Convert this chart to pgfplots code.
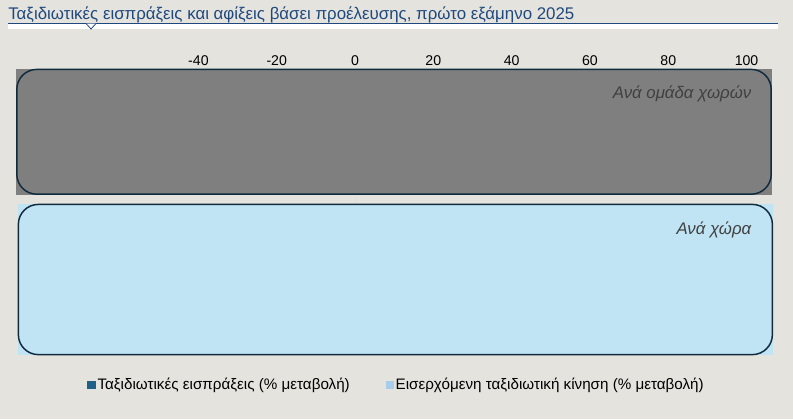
\documentclass[border=0pt]{standalone}
\usepackage{pgfplots}
\pgfplotsset{compat=1.18}
\usepackage{fontspec}
\setmainfont{Liberation Sans}
\definecolor{bgc}{RGB}{229,227,222}
\definecolor{titleblue}{RGB}{31,73,125}
\definecolor{panelgrey}{RGB}{127,127,127}
\definecolor{panelblue}{RGB}{192,228,244}
\definecolor{edge}{RGB}{16,42,62}
\definecolor{receipts}{RGB}{31,95,138}
\definecolor{arrivals}{RGB}{169,204,235}
\definecolor{labgrey}{RGB}{64,64,64}

\begin{document}
\begin{tikzpicture}
% page background, title, underline and notch (pixel units)
\begin{scope}[x=0.75pt,y=-0.75pt]
\fill[bgc] (0,0) rectangle (793,419);
\node[anchor=base west, inner sep=0pt, text=titleblue, font=\fontsize{12.65pt}{14pt}\selectfont]
  at (8,19) {Ταξιδιωτικές εισπράξεις και αφίξεις βάσει προέλευσης, πρώτο εξάμηνο 2025};
\fill[white] (8,24) rectangle (778,29);
\draw[titleblue, line width=1pt] (8,23.5) -- (778,23.5);
\filldraw[fill=white, draw=titleblue, line width=0.6pt] (86,23.5) -- (91,29) -- (96,23.5);
\end{scope}

\begin{axis}[
    at={(12pt,-266.25pt)}, anchor=south west,
    scale only axis,
    width=567pt, height=214.5pt,
    xmin=-86.6, xmax=106.5,
    ymin=0, ymax=286,
    clip=false,
    axis line style={draw=none},
    xtick={-40,-20,0,20,40,60,80,100},
    xticklabel pos=upper,
    major tick length=0pt,
    ytick=\empty,
    xticklabel style={font=\fontsize{10.6pt}{12pt}\selectfont, yshift=-1pt},
    /pgf/number format/assume math mode=true,
    legend columns=2,
    legend style={at={(0.504,-0.103)}, anchor=center, draw=none, fill=none,
        font=\fontsize{11.4pt}{13pt}\selectfont,
        /tikz/every even column/.append style={column sep=25pt}},
    legend cell align=left,
]
% zero line, seen in the gap between panels
\draw[gray!25, line width=0.8pt] (axis cs:0,150) -- (axis cs:0,161);
% panel: by country group
\fill[panelgrey] (axis cs:-86.6,160.5) rectangle (axis cs:106.5,286);
\draw[edge, fill=panelgrey, line width=1.1pt, rounded corners=15pt]
  (axis cs:-86.4,160.8) rectangle (axis cs:106.3,285.6);
\node[anchor=east, text=labgrey, font=\fontsize{12.6pt}{14pt}\selectfont\itshape]
  at (axis cs:102.4,261) {Ανά ομάδα χωρών};
% panel: by country
\fill[panelblue] (axis cs:-86.1,0) rectangle (axis cs:106.8,151);
\draw[edge, fill=panelblue, line width=1.1pt, rounded corners=15pt]
  (axis cs:-86.0,0.4) rectangle (axis cs:106.6,150.6);
\node[anchor=east, text=labgrey, font=\fontsize{12.6pt}{14pt}\selectfont\itshape]
  at (axis cs:102.4,125) {Ανά χώρα};

\addlegendimage{only marks, mark=square*, mark size=2.7pt, color=receipts}
\addlegendentry{Ταξιδιωτικές εισπράξεις (\% μεταβολή)}
\addlegendimage{only marks, mark=square*, mark size=2.7pt, color=arrivals}
\addlegendentry{Εισερχόμενη ταξιδιωτική κίνηση (\% μεταβολή)}
\end{axis}
\end{tikzpicture}
\end{document}
